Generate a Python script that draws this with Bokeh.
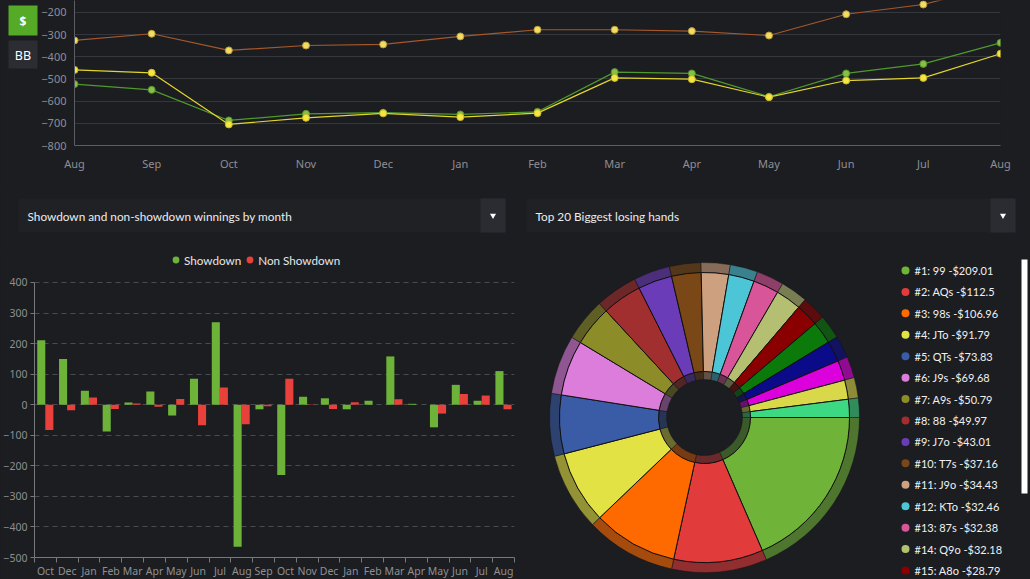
import numpy as np
from bokeh.plotting import figure
from bokeh.models import (Range1d, FixedTicker, ColumnDataSource, Legend, LegendItem,
                          GlobalInlineStyleSheet)
from bokeh.transform import dodge
from bokeh.layouts import column, row
from bokeh.core.properties import value
from bokeh.embed import file_html
from bokeh.resources import INLINE

BG = "#1c1d21"
FONT = "Noto Sans"
UIFONT = "Lato"
AXIS_TXT = "#8e8f94"

# ---------------- data ----------------
line_months = ["Aug", "Sep", "Oct", "Nov", "Dec", "Jan", "Feb", "Mar", "Apr", "May", "Jun", "Jul", "Aug"]
series_brown = [-326, -296, -371, -349, -344, -308, -278, -278, -284, -304, -208, -164, -75]
series_green = [-523, -549, -687, -657, -652, -660, -648, -469, -475, -580, -475, -432, -337]
series_yellow = [-459, -472, -705, -675, -655, -672, -654, -495, -501, -582, -507, -495, -386]
line_ticks = [-800, -700, -600, -500, -400, -300, -200]

bar_months = ["Oct", "Dec", "Jan", "Feb", "Mar", "Apr", "May", "Jun", "Jul", "Aug", "Sep",
              "Oct", "Nov", "Dec", "Jan", "Feb", "Mar", "Apr", "May", "Jun", "Jul", "Aug"]
showdown = [211, 150, 46, -88, 7, 43, -35, 85, 270, -465, -15,
            -230, 26, 21, -15, 13, 158, 3, -74, 65, 13, 110]
non_showdown = [-83, -18, 24, -14, 4, -7, 19, -67, 56, -64, -5,
                85, 1, -14, 8, 0, 18, 0, -29, 35, 30, -15]
bar_ticks = [-500, -400, -300, -200, -100, 0, 100, 200, 300, 400]

hand_labels = ["#1: 99 -$209.01", "#2: AQs -$112.5", "#3: 98s -$106.96", "#4: JTo -$91.79",
               "#5: QTs -$73.83", "#6: J9s -$69.68", "#7: A9s -$50.79", "#8: 88 -$49.97",
               "#9: J7o -$43.01", "#10: T7s -$37.16", "#11: J9o -$34.43", "#12: KTo -$32.46",
               "#13: 87s -$32.38", "#14: Q9o -$32.18", "#15: A8o -$28.79"]
hand_losses = [209.01, 112.5, 106.96, 91.79, 73.83, 69.68, 50.79, 49.97, 43.01, 37.16,
               34.43, 32.46, 32.38, 32.18, 28.79, 28.4, 26.3, 25.2, 24.1, 22.8]
hand_colors = ["#6fb339", "#e23b3b", "#ff6a00", "#e2e244", "#3a5ba6", "#dc7ddc", "#8c8c28",
               "#a22f2f", "#6a3cb8", "#7a4716", "#cda07f", "#4cc6d6", "#d9559a", "#b5bf72",
               "#8a0000", "#0b7a0b", "#0b0b8a", "#dc00dc", "#d9d84a", "#3dd882"]


def base_fig(**kw):
    return figure(output_backend="svg", toolbar_location=None, background_fill_color=BG,
                  border_fill_color=BG, outline_line_color=None, **kw)


def ui_fig(width, height, x0, y0, flip=True):
    yr = Range1d(y0 + height, y0) if flip else Range1d(y0, y0 + height)
    f = base_fig(frame_width=width, frame_height=height, x_range=Range1d(x0, x0 + width), y_range=yr,
                 min_border=0, x_axis_location=None, y_axis_location=None)
    f.grid.visible = False
    return f


# ---------------- buttons ----------------
btn = ui_fig(38, 185, 0, 0)
btn.quad(left=[8], right=[37], top=[5], bottom=[35], fill_color="#55aa28", line_color=None)
btn.quad(left=[8], right=[37], top=[40], bottom=[68], fill_color="#2c2d32", line_color=None)
btn.text(x=[22.5], y=[20.5], text=["$"], text_color="#ffffff", text_font=value(FONT),
         text_font_size="12px", text_font_style="bold", text_align="center", text_baseline="middle")
btn.text(x=[22.5], y=[54.5], text=["BB"], text_color="#ffffff", text_font=value(FONT),
         text_font_size="12.5px", text_align="center", text_baseline="middle")

# ---------------- line chart ----------------
lf = base_fig(width=992, height=185, x_range=Range1d(0, 12), y_range=Range1d(-800, -146),
              min_border_left=32, min_border_right=30, min_border_top=0, min_border_bottom=40)
lx = list(range(len(line_months)))
lf.xaxis.ticker = FixedTicker(ticks=lx)
lf.xaxis.major_label_overrides = {i: m for i, m in enumerate(line_months)}
lf.yaxis.ticker = FixedTicker(ticks=line_ticks)
for ax in (lf.xaxis[0], lf.yaxis[0]):
    ax.axis_line_color = "#5c5d62"
    ax.major_tick_line_color = None
    ax.minor_tick_line_color = None
    ax.major_tick_out = 0
    ax.major_label_text_color = AXIS_TXT
    ax.major_label_text_font = FONT
    ax.major_label_text_font_size = "11px"
lf.xaxis.major_label_standoff = 10
lf.yaxis.major_label_standoff = 8
lf.xgrid.grid_line_color = None
lf.ygrid.ticker = FixedTicker(ticks=line_ticks)
lf.ygrid.grid_line_color = "#36373c"
lsrc = ColumnDataSource(dict(x=lx, brown=series_brown, green=series_green, yellow=series_yellow))
lf.line("x", "brown", source=lsrc, line_color="#a4582c", line_width=1.2)
lf.scatter("x", "brown", source=lsrc, size=7, fill_color="#f2dc62", line_color="#b89a3a")
lf.line("x", "green", source=lsrc, line_color="#4f9a2c", line_width=1.2)
lf.scatter("x", "green", source=lsrc, size=7, fill_color="#86c046", line_color="#5a8f2a")
lf.line("x", "yellow", source=lsrc, line_color="#e2d52e", line_width=1.2)
lf.scatter("x", "yellow", source=lsrc, size=7, fill_color="#f6e640", line_color="#c6b82a")

# ---------------- dropdown strip ----------------
mid = ui_fig(1030, 65, 0, 185)
mid.quad(left=[18, 526], right=[505, 1015], top=[198, 198], bottom=[232, 232],
         fill_color="#202125", line_color=None)
mid.quad(left=[480, 990], right=[505, 1015], top=[198, 198], bottom=[232, 232],
         fill_color="#2b2c31", line_color=None)
mid.scatter(x=[492.5, 1002.5], y=[215, 215], marker="inverted_triangle", size=6,
            fill_color="#ffffff", line_color=None)
mid.text(x=[27, 535], y=[216, 216],
         text=["Showdown and non-showdown winnings by month", "Top 20 Biggest losing hands"],
         text_color="#ececec", text_font=value(UIFONT), text_font_size="11.8px",
         text_align="left", text_baseline="middle")

# ---------------- bar chart ----------------
bx = list(range(len(bar_months)))
bf = base_fig(frame_width=480, frame_height=307, x_range=Range1d(-0.5, 21.5),
              y_range=Range1d(-500, 504.7),
              min_border_left=32, min_border_right=8, min_border_top=0, min_border_bottom=22)
bsrc = ColumnDataSource(dict(x=bx, sd=showdown, nsd=non_showdown))
bf.vbar(x=dodge("x", -0.19, range=bf.x_range), top="sd", bottom=0, width=0.37, source=bsrc,
        fill_color="#6db33a", line_color=None)
bf.vbar(x=dodge("x", 0.18, range=bf.x_range), top="nsd", bottom=0, width=0.37, source=bsrc,
        fill_color="#e8403a", line_color=None)
bf.xaxis.ticker = FixedTicker(ticks=bx, minor_ticks=[i - 0.5 for i in range(len(bar_months) + 1)])
bf.xaxis.major_label_overrides = {i: m for i, m in enumerate(bar_months)}
bf.yaxis.ticker = FixedTicker(ticks=bar_ticks)
bf.yaxis.bounds = (-500, 400)
for ax in (bf.xaxis[0], bf.yaxis[0]):
    ax.axis_line_color = "#77787c"
    ax.major_label_text_color = AXIS_TXT
    ax.major_label_text_font = FONT
    ax.major_label_text_font_size = "10.5px"
bf.xaxis.major_tick_line_color = None
bf.xaxis.major_tick_out = 0
bf.xaxis.major_tick_in = 0
bf.xaxis.minor_tick_line_color = "#77787c"
bf.xaxis.minor_tick_out = 5
bf.xaxis.minor_tick_in = 0
bf.xaxis.major_label_standoff = 1
bf.yaxis.major_tick_line_color = "#77787c"
bf.yaxis.major_tick_out = 4
bf.yaxis.major_tick_in = 0
bf.yaxis.minor_tick_line_color = None
bf.yaxis.major_label_standoff = 3
bf.xgrid.grid_line_color = None
bf.ygrid.ticker = FixedTicker(ticks=bar_ticks[1:])
bf.ygrid.grid_line_color = "#4a4b50"
bf.ygrid.grid_line_dash = "5 4"
dot_sd = bf.scatter(x=[np.nan], y=[np.nan], marker="circle", size=8, fill_color="#6db33a", line_color=None)
dot_nsd = bf.scatter(x=[np.nan], y=[np.nan], marker="circle", size=8, fill_color="#e8403a", line_color=None)
leg = Legend(items=[LegendItem(label="Showdown", renderers=[dot_sd]),
                    LegendItem(label="Non Showdown", renderers=[dot_nsd])],
             orientation="horizontal", location=(133, 289), background_fill_alpha=0,
             border_line_alpha=0, label_text_color="#e6e6e6", label_text_font=UIFONT,
             label_text_font_size="11.7px", glyph_width=17, glyph_height=17, label_standoff=0,
             spacing=0, padding=0, margin=0)
bf.add_layout(leg)

# ---------------- pie chart + legend ----------------
pf = ui_fig(510, 329, 0, 0, flip=False)
vals = np.array(hand_losses)
cum = np.concatenate([[0], np.cumsum(vals)]) / vals.sum() * 2 * np.pi
psrc = ColumnDataSource(dict(start=-cum[1:], end=-cum[:-1], color=hand_colors))
cx, cy = 182, 162
pf.annular_wedge(x=cx, y=cy, inner_radius=38, outer_radius=46, start_angle="start", end_angle="end",
                 source=psrc, fill_color="color", fill_alpha=0.4, line_color="#111111", line_alpha=0.4)
pf.annular_wedge(x=cx, y=cy, inner_radius=145, outer_radius=155, start_angle="start", end_angle="end",
                 source=psrc, fill_color="color", fill_alpha=0.6, line_color="#111111", line_alpha=0.5)
pf.annular_wedge(x=cx, y=cy, inner_radius=46, outer_radius=145, start_angle="start", end_angle="end",
                 source=psrc, fill_color="color", line_color="#111111", line_width=1)

n_leg = len(hand_labels)
ly = [309 - i * 21.43 for i in range(n_leg)]
lgsrc = ColumnDataSource(dict(x=[383] * n_leg, tx=[392] * n_leg, y=ly,
                              color=hand_colors[:n_leg], label=hand_labels))
pf.scatter("x", "y", source=lgsrc, size=8, fill_color="color", line_color=None)
pf.text("tx", "y", text="label", source=lgsrc, text_color="#f0f0f0", text_font=value(UIFONT),
        text_font_size="11px", text_align="left", text_baseline="middle")
pf.quad(left=[499], right=[505], bottom=[86], top=[320], fill_color="#ffffff", line_color=None)

layout = column(row(btn, lf), mid, row(bf, pf))
layout.stylesheets = [GlobalInlineStyleSheet(css="html, body { margin: 0 !important; padding: 0; background: #1c1d21; overflow: hidden; }")]

open("out.html", "w").write(file_html(layout, INLINE))
